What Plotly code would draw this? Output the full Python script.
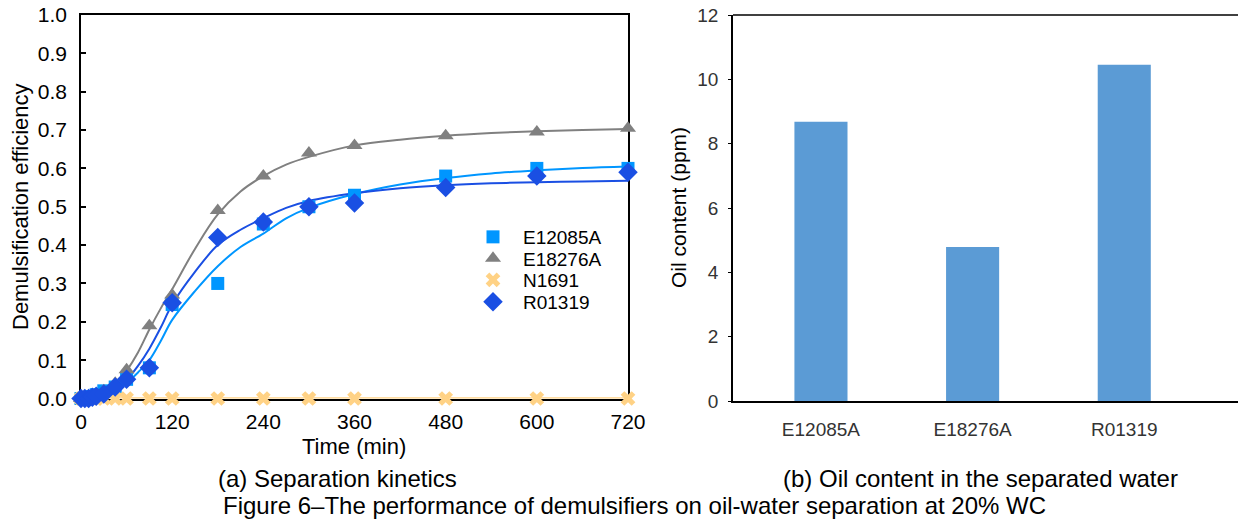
import plotly.graph_objects as go

# ---- (a) separation kinetics: measured points ----
time_min = [0, 5, 10, 15, 20, 30, 45, 60, 90, 120, 180, 240, 300, 360, 480, 600, 720]
e12085a = [0, 0, 0.002, 0.005, 0.01, 0.02, 0.03, 0.05, 0.08, 0.245, 0.30, 0.455, 0.50, 0.53, 0.58, 0.60, 0.60]
e18276a = [0, 0, 0.002, 0.004, 0.008, 0.02, 0.04, 0.075, 0.19, 0.27, 0.49, 0.58, 0.64, 0.66, 0.685, 0.695, 0.705]
n1691 = [0] * 17
r01319 = [0, 0, 0, 0.003, 0.006, 0.012, 0.03, 0.05, 0.08, 0.25, 0.42, 0.46, 0.50, 0.51, 0.55, 0.58, 0.59]

# ---- (a) fitted kinetic curves, sampled ----
fit_t = [0, 15, 30, 45, 60, 75, 90, 105, 120, 150, 180, 210, 240, 270, 300, 360, 420, 480, 540, 600, 660, 720]
fit_e12085a = [0, 0.001, 0.006, 0.018, 0.04, 0.068, 0.10, 0.15, 0.205, 0.28, 0.345, 0.395, 0.43, 0.47, 0.497,
               0.533, 0.558, 0.575, 0.587, 0.595, 0.601, 0.605]
fit_e18276a = [0, 0.002, 0.012, 0.035, 0.072, 0.12, 0.18, 0.235, 0.285, 0.39, 0.48, 0.54, 0.58, 0.61, 0.63,
               0.66, 0.675, 0.685, 0.692, 0.697, 0.70, 0.703]
fit_r01319 = [0, 0.001, 0.008, 0.022, 0.048, 0.085, 0.13, 0.185, 0.245, 0.33, 0.40, 0.44, 0.47, 0.497, 0.515,
              0.535, 0.548, 0.556, 0.561, 0.564, 0.566, 0.568]

# ---- (b) oil content in separated water ----
demulsifiers = ["E12085A", "E18276A", "R01319"]
oil_ppm = [8.68, 4.79, 10.45]

x_ticks = [0, 120, 240, 360, 480, 600, 720]

FONT = "Liberation Sans, Arial, sans-serif"
C_LIGHT = "#0096FF"
C_GRAY = "#808080"
C_ORANGE = "#FFD285"
C_DARK = "#1A4FE3"

W, H = 1238, 519


def px_x(p):
    return p / W


def px_y(p):
    return 1 - p / H


fig = go.Figure()

# fitted curves (drawn first, below the markers)
for t, y, c in [(fit_t, fit_e18276a, C_GRAY), (fit_t, fit_e12085a, C_LIGHT), (fit_t, fit_r01319, C_DARK)]:
    fig.add_trace(go.Scatter(x=t, y=y, mode="lines", line=dict(color=c, width=2, shape="spline"),
                             showlegend=False, hoverinfo="skip", xaxis="x", yaxis="y", cliponaxis=False))

fig.add_trace(go.Scatter(x=time_min, y=n1691, mode="lines", line=dict(color=C_ORANGE, width=2.5),
                         showlegend=False, hoverinfo="skip", xaxis="x", yaxis="y", cliponaxis=False))

# one single-entry legend per series so the rows can be spaced freely
series = [
    ("E12085A", e12085a, "square", C_LIGHT, 13, "legend", 237),
    ("E18276A", e18276a, "triangle-up", C_GRAY, 14, "legend2", 258.5),
    ("N1691", n1691, "x", C_ORANGE, 13, "legend3", 280),
    ("R01319", r01319, "diamond", C_DARK, 15, "legend4", 302),
]
legend_layout = {}
for name, vals, sym, col, size, leg, row_y in series:
    fig.add_trace(go.Scatter(x=time_min, y=vals, mode="markers", name=name, legend=leg,
                             marker=dict(symbol=sym, color=col, size=size, line=dict(width=0)),
                             xaxis="x", yaxis="y", cliponaxis=False))
    legend_layout[leg] = dict(x=px_x(463), y=px_y(row_y), xanchor="left", yanchor="middle",
                              bgcolor="rgba(0,0,0,0)", borderwidth=0, itemwidth=50,
                              font=dict(family=FONT, size=19, color="black"))

fig.add_trace(go.Bar(x=demulsifiers, y=oil_ppm, marker=dict(color="#5B9BD5", line=dict(width=0)),
                     width=0.35, showlegend=False, xaxis="x2", yaxis="y2"))

left_font = dict(family=FONT, size=21, color="black")
right_font = dict(family=FONT, size=19, color="#333333")

fig.update_layout(
    width=W, height=H,
    margin=dict(l=0, r=0, t=0, b=0, autoexpand=False),
    paper_bgcolor="white", plot_bgcolor="white",
    font=dict(family=FONT, size=18, color="black"),
    xaxis=dict(domain=[px_x(81), px_x(628)], range=[0, 720], tickvals=x_ticks,
               showline=True, linecolor="black", linewidth=1.5, mirror=True,
               ticks="inside", ticklen=4, tickwidth=1.5, tickcolor="black", ticklabelstandoff=4,
               showgrid=False, zeroline=False, tickfont=left_font, layer="below traces",
               automargin=False, anchor="y"),
    yaxis=dict(domain=[px_y(398.5), px_y(15)], range=[0, 1.0], dtick=0.1, tickformat=".1f",
               showline=True, linecolor="black", linewidth=1.5, mirror=True,
               ticks="inside", ticklen=5, tickwidth=1.5, tickcolor="black", ticklabelstandoff=8,
               showgrid=False, zeroline=False, tickfont=left_font, layer="below traces",
               automargin=False, anchor="x"),
    xaxis2=dict(domain=[px_x(733), 1.0], range=[-0.58, 2.75], type="category",
                showline=True, linecolor="black", linewidth=1.5, mirror=False,
                ticks="", showgrid=False, zeroline=False, ticklabelstandoff=10,
                tickfont=right_font, automargin=False, anchor="y2"),
    yaxis2=dict(domain=[px_y(401), px_y(15)], range=[0, 12], dtick=2,
                showline=True, linecolor="black", linewidth=1.5, mirror=False,
                ticks="outside", ticklen=3, tickwidth=1, tickcolor="black", ticklabelstandoff=6,
                showgrid=False, zeroline=False,
                tickfont=right_font, automargin=False, anchor="x2"),
    showlegend=True,
    **legend_layout,
)

# top border of panel (b); the panel runs off the right edge, so no right border
fig.add_shape(type="line", xref="paper", yref="paper", x0=px_x(733), x1=1.0, y0=px_y(15), y1=px_y(15),
              line=dict(color="black", width=1.5))

annotations = [
    dict(text="Demulsification efficiency", x=px_x(20), y=px_y(207), textangle=-90, size=22),
    dict(text="Time (min)", x=px_x(354), y=px_y(446), textangle=0, size=22),
    dict(text="Oil content (ppm)", x=px_x(678), y=px_y(208), textangle=-90, size=21),
    dict(text="(a) Separation kinetics", x=px_x(337), y=px_y(478), textangle=0, size=24),
    dict(text="(b) Oil content in the separated water", x=px_x(980), y=px_y(478), textangle=0, size=24),
    dict(text="Figure 6\u2013The performance of demulsifiers on oil-water separation at 20% WC",
         x=px_x(634), y=px_y(505), textangle=0, size=24),
]
for a in annotations:
    fig.add_annotation(text=a["text"], x=a["x"], y=a["y"], xref="paper", yref="paper",
                       xanchor="center", yanchor="middle", showarrow=False, textangle=a["textangle"],
                       font=dict(family=FONT, size=a["size"], color="black"))

fig.write_html("out.html")
